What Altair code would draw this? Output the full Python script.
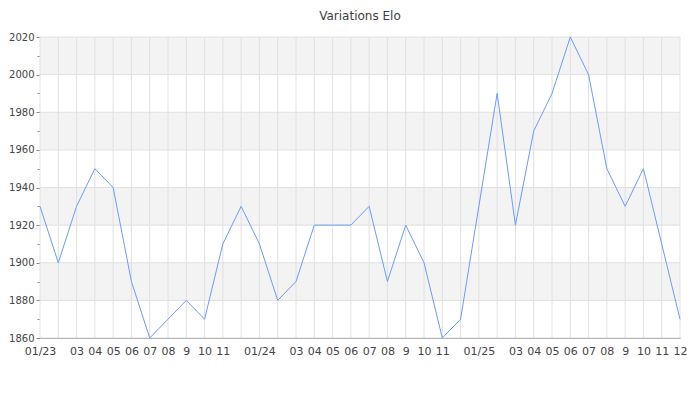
import altair as alt
import pandas as pd

months = [f"{m:02d}/{y}" for y in (23, 24, 25) for m in range(1, 13)]
elo = [1930, 1900, 1930, 1950, 1940, 1890, 1860, 1870, 1880, 1870, 1910, 1930,
       1910, 1880, 1890, 1920, 1920, 1920, 1930, 1890, 1920, 1900, 1860, 1870,
       1930, 1990, 1920, 1970, 1990, 2020, 2000, 1950, 1930, 1950, 1910, 1870]
tick_labels = ["01/23", "", "03", "04", "05", "06", "07", "08", "9", "10", "11", "",
               "01/24", "", "03", "04", "05", "06", "07", "08", "9", "10", "11", "",
               "01/25", "", "03", "04", "05", "06", "07", "08", "9", "10", "11", "12"]
band_lo = [1860, 1880, 1900, 1920, 1940, 1960, 1980, 2000]
band_fill = ["#ffffff", "#f3f3f3", "#ffffff", "#f3f3f3", "#ffffff", "#f3f3f3", "#ffffff", "#f3f3f3"]

df = pd.DataFrame({"idx": list(range(len(months))), "month": months, "elo": elo})
bands = pd.DataFrame({"y": band_lo, "y2": [b + 20 for b in band_lo], "fill": band_fill})
hgrid = pd.DataFrame({"y": band_lo + [2020]})

label_js = "[" + ",".join("'" + t + "'" for t in tick_labels) + "]"

xscale = alt.Scale(domain=[0, len(months) - 1], nice=False, zero=False)
yscale = alt.Scale(domain=[1860, 2020], nice=False, zero=False)
GRID = "#e0e0e0"

x_axis = alt.Axis(values=list(range(len(months))), labelExpr=label_js + "[datum.value]",
                  grid=False, ticks=False, domainColor="#888888", title=None,
                  labelFontSize=11, labelColor="#444444", labelFont="DejaVu Sans",
                  labelPadding=7, labelOverlap=False, labelFlush=False)
y_axis = alt.Axis(values=list(range(1860, 2021, 10)),
                  labelExpr="datum.value % 20 == 0 ? datum.value : ''",
                  grid=False, title=None,
                  tickSize={"condition": {"test": "datum.value % 20 == 0", "value": 4}, "value": 3},
                  tickColor="#888888", domainColor="#888888",
                  labelFontSize=10, labelColor="#444444", labelFont="DejaVu Sans",
                  labelPadding=2, labelOverlap=False, labelFlush=False)

band_layer = alt.Chart(bands).mark_rect().encode(
    x=alt.value(0), x2=alt.value(640),
    y=alt.Y("y:Q", scale=yscale, axis=y_axis),
    y2="y2:Q",
    color=alt.Color("fill:N", scale=None),
)

vgrid = alt.Chart(df).mark_rule(color=GRID, strokeWidth=1).encode(
    x=alt.X("idx:Q", scale=xscale, axis=x_axis),
    y=alt.value(0), y2=alt.value(301),
)

hgrid_layer = alt.Chart(hgrid).mark_rule(color=GRID, strokeWidth=1).encode(
    y=alt.Y("y:Q", scale=yscale, axis=y_axis),
    x=alt.value(0), x2=alt.value(640),
)

line = alt.Chart(df).mark_line(color="#6b9cf5", strokeWidth=1).encode(
    x=alt.X("idx:Q", scale=xscale, axis=x_axis),
    y=alt.Y("elo:Q", scale=yscale, axis=y_axis),
)

chart = alt.layer(band_layer, vgrid, hgrid_layer, line).properties(
    width=640, height=301,
    title=alt.Title("Variations Elo", fontSize=12, fontWeight="normal", font="DejaVu Sans",
                    color="#404040", anchor="middle", offset=9),
    autosize=alt.AutoSizeParams(type="none"),
    padding={"left": 32, "top": 29, "right": 12, "bottom": 40},
).configure_view(stroke=None)

chart.save("out.html", embed_options={"renderer": "svg", "actions": False})
